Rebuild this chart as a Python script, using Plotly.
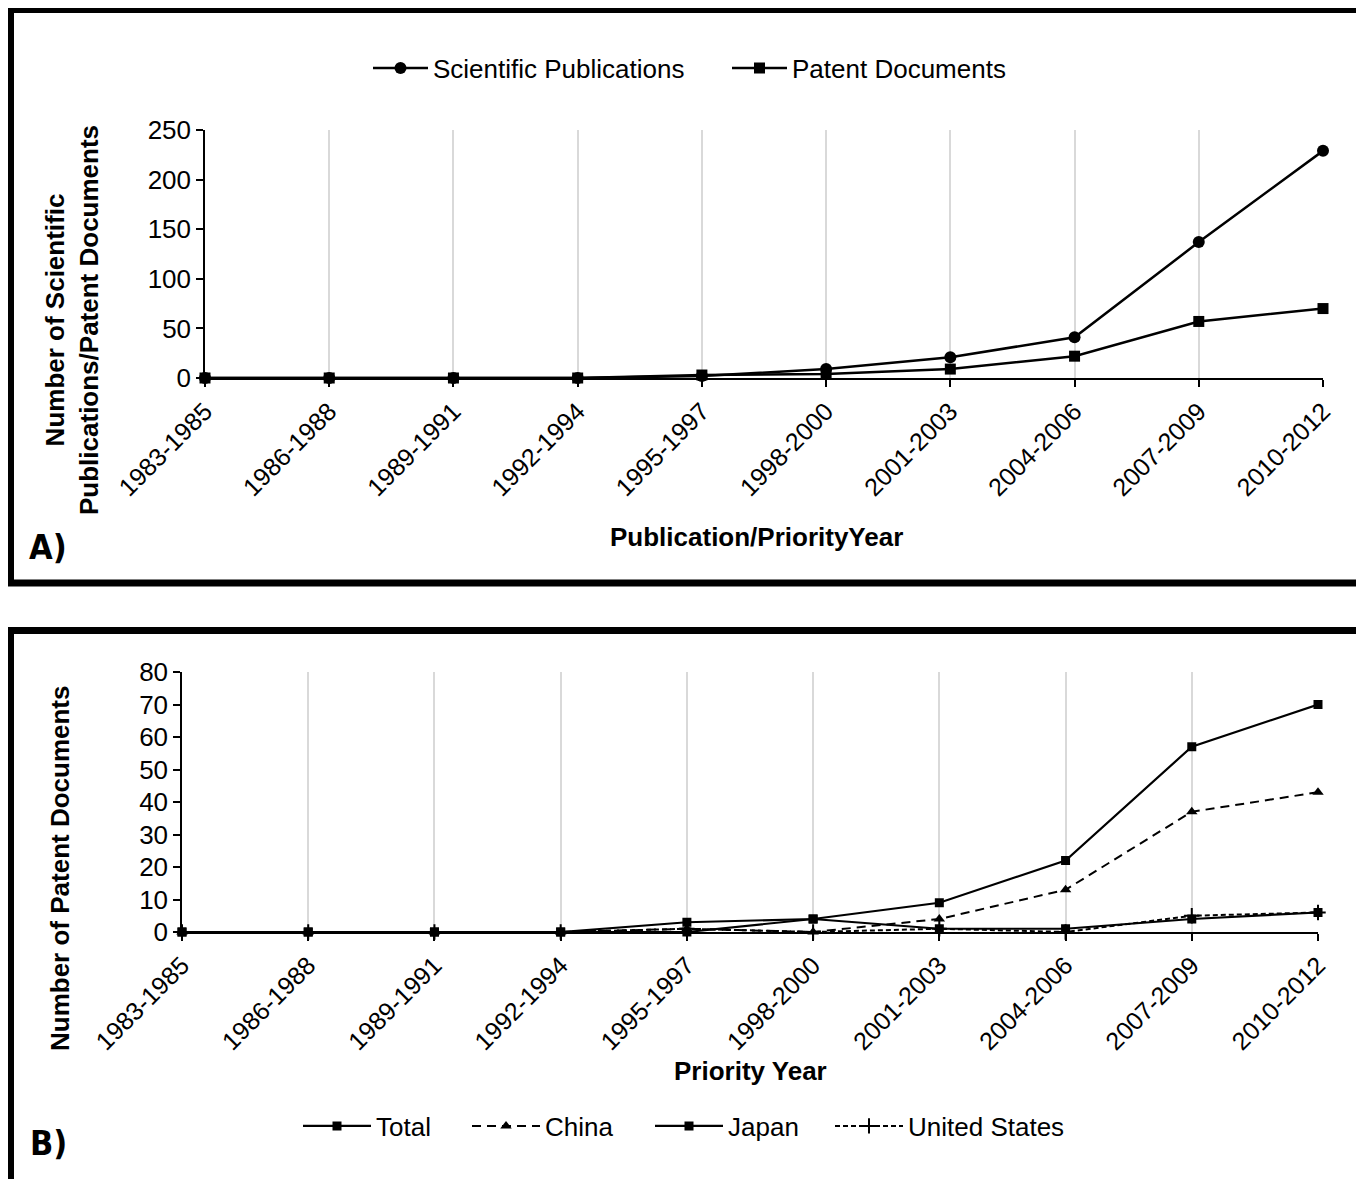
import plotly.graph_objects as go

# ---------------- data ----------------
periods = ["1983-1985", "1986-1988", "1989-1991", "1992-1994", "1995-1997",
           "1998-2000", "2001-2003", "2004-2006", "2007-2009", "2010-2012"]

sci_pubs = [0, 0, 0, 0, 2, 9, 21, 41, 137, 229]
patent_docs = [0, 0, 0, 0, 3, 4, 9, 22, 57, 70]

total_b = [0, 0, 0, 0, 3, 4, 9, 22, 57, 70]
china_b = [0, 0, 0, 0, 1, 0, 4, 13, 37, 43]
japan_b = [0, 0, 0, 0, 0, 4, 1, 1, 4, 6]
us_b = [0, 0, 0, 0, 1, 0, 1, 0, 5, 6]

y_ticks_a = [0, 50, 100, 150, 200, 250]
y_ticks_b = [0, 10, 20, 30, 40, 50, 60, 70, 80]

# ---------------- layout helpers ----------------
W, H = 1364, 1179
OFF = 8  # page body margin
def px(x):
    return (x - OFF) / W
def py(y):
    return 1 - (y - OFF) / H

FONT = "Liberation Sans, Arial, sans-serif"
FS = 26
idx = list(range(len(periods)))

fig = go.Figure()

# Panel A
fig.add_trace(go.Scatter(x=idx, y=sci_pubs, name="Scientific Publications",
                         mode="lines+markers", xaxis="x", yaxis="y",
                         line=dict(color="black", width=2.5),
                         marker=dict(symbol="circle", size=12, color="black"),
                         cliponaxis=False, legend="legend"))
fig.add_trace(go.Scatter(x=idx, y=patent_docs, name="Patent Documents",
                         mode="lines+markers", xaxis="x", yaxis="y",
                         line=dict(color="black", width=2.5),
                         marker=dict(symbol="square", size=11, color="black"),
                         cliponaxis=False, legend="legend2"))

# Panel B
fig.add_trace(go.Scatter(x=idx, y=total_b, name="Total",
                         mode="lines+markers", xaxis="x2", yaxis="y2",
                         line=dict(color="black", width=2.2),
                         marker=dict(symbol="square", size=9, color="black"),
                         cliponaxis=False, legend="legend3"))
fig.add_trace(go.Scatter(x=idx, y=china_b, name="China",
                         mode="lines+markers", xaxis="x2", yaxis="y2",
                         line=dict(color="black", width=2, dash="9px,6px"),
                         marker=dict(symbol="triangle-up", size=10, color="black"),
                         cliponaxis=False, legend="legend4"))
fig.add_trace(go.Scatter(x=idx, y=japan_b, name="Japan",
                         mode="lines+markers", xaxis="x2", yaxis="y2",
                         line=dict(color="black", width=2.2),
                         marker=dict(symbol="square", size=9, color="black"),
                         cliponaxis=False, legend="legend5"))
fig.add_trace(go.Scatter(x=idx, y=us_b, name="United States",
                         mode="lines+markers", xaxis="x2", yaxis="y2",
                         line=dict(color="black", width=2, dash="5px,3px"),
                         marker=dict(symbol="cross-thin", size=11, color="black",
                                     line=dict(color="black", width=2)),
                         cliponaxis=False, legend="legend6"))

xaxis_common = dict(
    range=[0, 9], tickmode="array", tickvals=idx, ticktext=periods,
    tickangle=-45, showgrid=True, gridcolor="#d9d9d9", gridwidth=1.5,
    showline=True, linecolor="black", linewidth=1.5,
    ticks="outside", ticklen=7, tickcolor="black", tickwidth=1.5,
    tickfont=dict(family=FONT, size=FS - 1, color="black"),
    zeroline=False, fixedrange=True, automargin=False,
)
yaxis_common = dict(
    showgrid=False, showline=True, linecolor="black", linewidth=1.5,
    ticks="outside", ticklen=7, tickcolor="black", tickwidth=1.5,
    tickfont=dict(family=FONT, size=FS, color="black"),
    zeroline=False, tickmode="array", automargin=False, fixedrange=True,
)

def leg(x_left, y_mid, iw):
    return dict(orientation="h", x=px(x_left), y=py(y_mid), xanchor="left", yanchor="middle",
                font=dict(family=FONT, size=FS, color="black"),
                bgcolor="rgba(0,0,0,0)", itemwidth=iw, borderwidth=0)

fig.update_layout(
    template="none",
    width=W, height=H,
    margin=dict(l=0, r=0, t=0, b=0, pad=0, autoexpand=False),
    paper_bgcolor="white", plot_bgcolor="white",
    showlegend=True,
    xaxis=dict(domain=[px(205), px(1323)], anchor="y", **xaxis_common),
    yaxis=dict(domain=[py(378), py(130)], anchor="x", range=[0, 250],
               tickvals=y_ticks_a, **yaxis_common),
    xaxis2=dict(domain=[px(182), px(1318)], anchor="y2", **xaxis_common),
    yaxis2=dict(domain=[py(932), py(672)], anchor="x2", range=[0, 80],
                tickvals=y_ticks_b, **yaxis_common),
    legend=leg(368, 68, 55),
    legend2=leg(727, 68, 55),
    legend3=leg(298, 1126, 68),
    legend4=leg(467, 1126, 68),
    legend5=leg(650, 1126, 68),
    legend6=leg(830, 1126, 68),
)

annotations = [
    dict(text="<b>Publication/PriorityYear</b>", x=px(757), y=py(537)),
    dict(text="<b>Number of Scientific<br>Publications/Patent Documents</b>",
         x=px(72), y=py(320), textangle=-90),
    dict(text="<b>Priority Year</b>", x=px(750), y=py(1071)),
    dict(text="<b>Number of Patent Documents</b>", x=px(60), y=py(868), textangle=-90),
]
for a in annotations:
    fig.add_annotation(xref="paper", yref="paper", showarrow=False,
                       xanchor="center", yanchor="middle",
                       font=dict(family=FONT, size=FS, color="black"), **a)

for lbl, x, y in [("A)", 48, 547), ("B)", 48, 1143)]:
    fig.add_annotation(xref="paper", yref="paper", showarrow=False, text=f"<b>{lbl}</b>",
                       x=px(x), y=py(y), xanchor="center", yanchor="middle",
                       font=dict(family="Liberation Sans Narrow, DejaVu Sans Condensed, sans-serif",
                                 size=34, color="black"))

# panel borders
fig.add_shape(type="rect", xref="paper", yref="paper",
              x0=px(10.5), x1=px(1365), y0=py(583), y1=py(9.5),
              line=dict(color="black", width=7), fillcolor="rgba(0,0,0,0)")
fig.add_shape(type="rect", xref="paper", yref="paper",
              x0=px(10.5), x1=px(1365), y0=py(1190), y1=py(630.5),
              line=dict(color="black", width=7), fillcolor="rgba(0,0,0,0)")

fig.write_html("out.html")
